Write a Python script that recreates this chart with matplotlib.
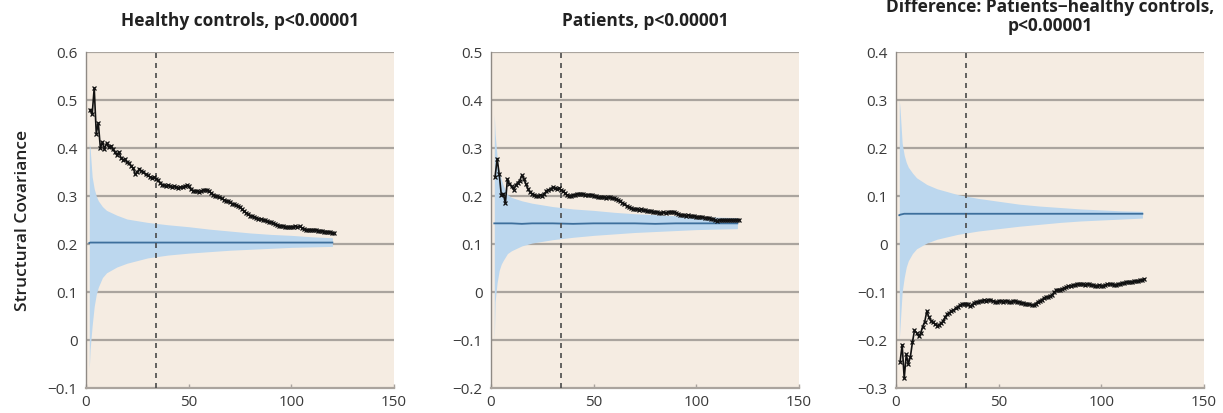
import matplotlib
matplotlib.use("Agg")
import matplotlib.pyplot as plt
import numpy as np

plt.rcParams['font.family'] = ['Open Sans', 'DejaVu Sans']

# ---------------- data ----------------
x_obs = list(range(2, 122))

healthy_obs = [0.480, 0.470, 0.525, 0.430, 0.452, 0.400, 0.412, 0.398, 0.410, 0.402,
               0.405, 0.398, 0.392, 0.385, 0.392, 0.380, 0.375, 0.377, 0.370, 0.368,
               0.362, 0.358, 0.345, 0.350, 0.357, 0.352, 0.350, 0.345, 0.343, 0.340,
               0.338, 0.339, 0.336, 0.333, 0.328, 0.323, 0.322, 0.321, 0.322, 0.320,
               0.319, 0.320, 0.318, 0.317, 0.318, 0.319, 0.321, 0.322, 0.320, 0.314,
               0.311, 0.310, 0.311, 0.309, 0.310, 0.312, 0.313, 0.312, 0.310, 0.306,
               0.303, 0.301, 0.299, 0.298, 0.295, 0.292, 0.290, 0.289, 0.287, 0.284,
               0.283, 0.281, 0.279, 0.277, 0.272, 0.268, 0.265, 0.262, 0.259, 0.258,
               0.256, 0.255, 0.253, 0.252, 0.251, 0.249, 0.247, 0.246, 0.245, 0.244,
               0.241, 0.240, 0.238, 0.238, 0.237, 0.236, 0.235, 0.235, 0.236, 0.236,
               0.237, 0.236, 0.237, 0.234, 0.231, 0.230, 0.229, 0.230, 0.229, 0.229,
               0.230, 0.228, 0.227, 0.228, 0.226, 0.226, 0.225, 0.224, 0.223, 0.222]

patients_obs = [0.240, 0.278, 0.245, 0.203, 0.205, 0.185, 0.235, 0.225, 0.220, 0.213,
                0.222, 0.228, 0.232, 0.243, 0.236, 0.225, 0.215, 0.208, 0.205, 0.202,
                0.200, 0.200, 0.202, 0.201, 0.205, 0.210, 0.213, 0.215, 0.218, 0.216,
                0.214, 0.217, 0.213, 0.210, 0.206, 0.202, 0.200, 0.201, 0.202, 0.203,
                0.204, 0.205, 0.204, 0.204, 0.203, 0.202, 0.203, 0.202, 0.201, 0.199,
                0.197, 0.197, 0.198, 0.198, 0.196, 0.197, 0.197, 0.196, 0.195, 0.193,
                0.191, 0.189, 0.186, 0.183, 0.180, 0.177, 0.175, 0.173, 0.172, 0.173,
                0.171, 0.172, 0.170, 0.170, 0.169, 0.168, 0.168, 0.167, 0.167, 0.166,
                0.165, 0.165, 0.166, 0.165, 0.166, 0.167, 0.167, 0.166, 0.165, 0.163,
                0.161, 0.160, 0.160, 0.159, 0.160, 0.159, 0.158, 0.158, 0.157, 0.156,
                0.157, 0.156, 0.155, 0.155, 0.154, 0.153, 0.152, 0.150, 0.147, 0.149,
                0.150, 0.150, 0.150, 0.149, 0.150, 0.150, 0.149, 0.150, 0.150, 0.150]

diff_obs = [-0.245, -0.210, -0.280, -0.230, -0.250, -0.235, -0.205, -0.180, -0.185, -0.192,
            -0.186, -0.172, -0.162, -0.140, -0.152, -0.160, -0.163, -0.167, -0.170, -0.168,
            -0.165, -0.160, -0.152, -0.146, -0.143, -0.140, -0.138, -0.134, -0.131, -0.128,
            -0.126, -0.125, -0.124, -0.126, -0.130, -0.127, -0.122, -0.121, -0.120, -0.119,
            -0.118, -0.117, -0.118, -0.117, -0.116, -0.118, -0.120, -0.121, -0.119, -0.118,
            -0.120, -0.119, -0.118, -0.120, -0.121, -0.119, -0.118, -0.120, -0.121, -0.122,
            -0.123, -0.124, -0.125, -0.126, -0.127, -0.128, -0.124, -0.121, -0.118, -0.116,
            -0.113, -0.111, -0.110, -0.108, -0.106, -0.101, -0.096, -0.095, -0.095, -0.093,
            -0.092, -0.090, -0.088, -0.087, -0.086, -0.085, -0.084, -0.084, -0.084, -0.084,
            -0.085, -0.084, -0.084, -0.085, -0.086, -0.087, -0.087, -0.086, -0.087, -0.087,
            -0.085, -0.084, -0.083, -0.084, -0.085, -0.085, -0.084, -0.083, -0.082, -0.081,
            -0.080, -0.080, -0.079, -0.079, -0.078, -0.077, -0.077, -0.076, -0.075, -0.073]

x_band = [1.6, 2, 3, 4, 5, 6, 8, 10, 15, 20, 30, 40, 50, 60, 70, 80, 90, 100, 110, 120]

healthy_upper = [0.41, 0.40, 0.34, 0.315, 0.30, 0.29, 0.278, 0.27, 0.26, 0.252,
                 0.245, 0.24, 0.236, 0.231, 0.227, 0.223, 0.220, 0.218, 0.215, 0.213]
healthy_lower = [-0.06, -0.02, 0.03, 0.07, 0.095, 0.11, 0.13, 0.14, 0.152, 0.16,
                 0.171, 0.177, 0.181, 0.184, 0.187, 0.189, 0.191, 0.193, 0.194, 0.195]
healthy_mean = [0.202, 0.203, 0.203, 0.203, 0.203, 0.203, 0.203, 0.203, 0.203, 0.203,
                0.203, 0.203, 0.203, 0.203, 0.203, 0.203, 0.203, 0.203, 0.203, 0.203]

patients_upper = [0.37, 0.33, 0.28, 0.25, 0.235, 0.222, 0.203, 0.197, 0.19, 0.185,
                  0.178, 0.173, 0.17, 0.166, 0.163, 0.161, 0.159, 0.157, 0.156, 0.155]
patients_lower = [-0.10, -0.02, 0.02, 0.045, 0.058, 0.066, 0.080, 0.086, 0.096, 0.102,
                  0.109, 0.114, 0.118, 0.121, 0.124, 0.126, 0.128, 0.130, 0.131, 0.132]
patients_mean = [0.143, 0.143, 0.143, 0.143, 0.143, 0.143, 0.143, 0.143, 0.142, 0.143,
                 0.143, 0.142, 0.143, 0.143, 0.143, 0.142, 0.143, 0.143, 0.143, 0.143]

diff_upper = [0.30, 0.28, 0.21, 0.185, 0.17, 0.16, 0.148, 0.138, 0.124, 0.115,
              0.103, 0.095, 0.089, 0.083, 0.079, 0.076, 0.073, 0.071, 0.069, 0.068]
diff_lower = [-0.20, -0.17, -0.10, -0.07, -0.048, -0.035, -0.02, -0.01, 0.002, 0.01,
              0.02, 0.027, 0.032, 0.037, 0.041, 0.045, 0.048, 0.050, 0.052, 0.054]
diff_mean = [0.060, 0.061, 0.062, 0.063, 0.063, 0.063, 0.063, 0.063, 0.063, 0.063,
             0.063, 0.063, 0.063, 0.063, 0.063, 0.063, 0.063, 0.063, 0.063, 0.063]

titles = ["Healthy controls, p<0.00001",
          "Patients, p<0.00001",
          "Difference: Patients\u2212healthy controls,\np<0.00001"]
y_ranges = [(-0.1, 0.6), (-0.2, 0.5), (-0.3, 0.4)]
cutoff_x = 34
x_ticks = [0, 50, 100, 150]

panels = [
    (healthy_obs, healthy_upper, healthy_lower, healthy_mean),
    (patients_obs, patients_upper, patients_lower, patients_mean),
    (diff_obs, diff_upper, diff_lower, diff_mean),
]

# ---------------- style ----------------
bg = "#f5ece2"
band_col = "#bcd7ee"
mean_col = "#3d6f9c"
grid_col = "#aaa49e"
text_col = "#3a3a3a"

W, H = 1223, 413
fig = plt.figure(figsize=(W / 100, H / 100), dpi=100)
lefts = [86, 491, 896]
ax_w = 308
top_px, bot_px = 52, 388

def ylab(v):
    if abs(v) < 1e-9:
        return "0"
    s = f"{abs(v):.1f}"
    return ("\u2212" + s) if v < 0 else s

for i, (obs, up, lo, mn) in enumerate(panels):
    ax = fig.add_axes([lefts[i] / W, (H - bot_px) / H, ax_w / W, (bot_px - top_px) / H])
    ax.set_facecolor(bg)
    y0, y1 = y_ranges[i]
    yt = np.round(np.arange(y0, y1 + 1e-9, 0.1), 2)
    for v in yt[1:]:
        ax.axhline(v, color=grid_col, lw=1.6, zorder=1)
    ax.fill_between(x_band, lo, up, color=band_col, lw=0, zorder=2)
    ax.plot(x_band, mn, color=mean_col, lw=1.3, zorder=3)
    ax.axvline(cutoff_x, color="#4a4a4a", lw=1.2, ls=(0, (3, 3)), zorder=4)
    ax.plot(x_obs, obs, color="#111111", lw=1.2, marker="x", ms=3.5, mew=0.9, zorder=5)
    ax.set_xlim(0, 150)
    ax.set_ylim(y0, y1)
    ax.set_yticks(yt)
    ax.set_yticklabels([ylab(v) for v in yt])
    ax.set_xticks(x_ticks)
    ax.set_xticklabels([str(t) for t in x_ticks])
    ax.tick_params(axis="y", length=0, pad=6, labelsize=11, labelcolor=text_col)
    ax.tick_params(axis="x", direction="in", length=3, width=1, color=grid_col,
                   pad=5, labelsize=11, labelcolor=text_col)
    for s in ["top", "right"]:
        ax.spines[s].set_visible(False)
    ax.spines["left"].set_color("#8f8a85")
    ax.spines["left"].set_linewidth(1.0)
    ax.spines["bottom"].set_color(grid_col)
    ax.spines["bottom"].set_linewidth(1.6)
    if i < 2:
        ax.set_title(titles[i], fontsize=12.5, fontweight="bold", color="#222222", pad=19)
    else:
        ax.set_title(titles[i], fontsize=12.5, fontweight="bold", color="#222222",
                     pad=15, linespacing=1.1)
    if i == 0:
        ax.set_ylabel("Structural Covariance", fontsize=12.5, fontweight="semibold",
                      color="#222222", labelpad=12)

fig.savefig("out.png", dpi=100)
